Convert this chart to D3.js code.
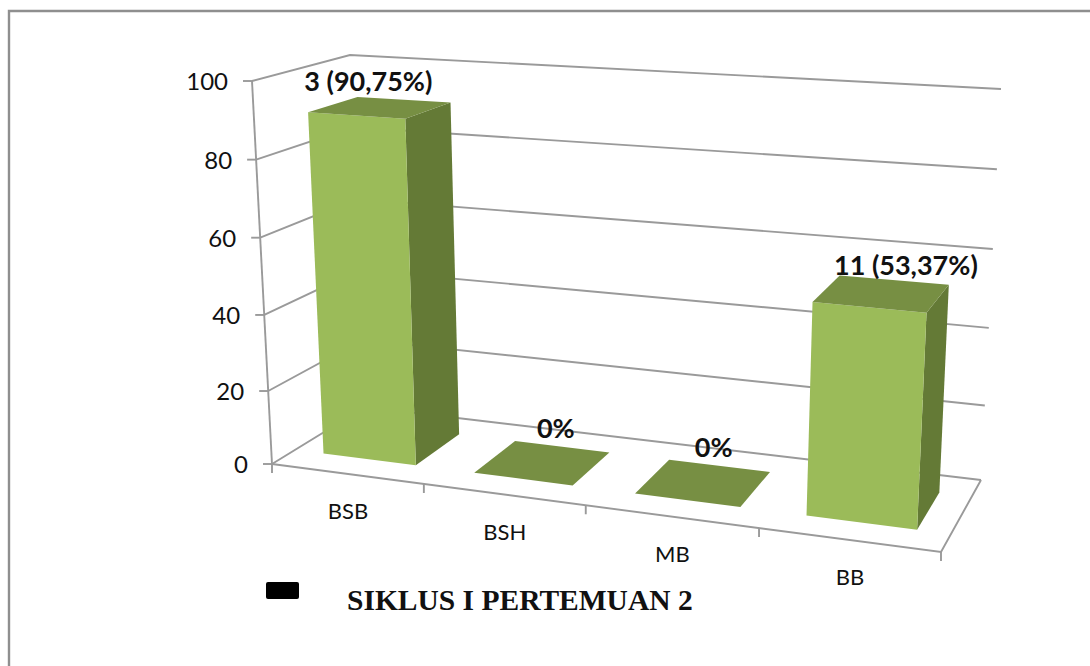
<!DOCTYPE html>
<html>
<head>
<meta charset="utf-8">
<style>
	html, body { margin: 0; padding: 0; background: #fff; overflow: hidden; }
	svg { display: block; }
	.tick-label { font-family: Lato, "Open Sans", sans-serif; fill: #111; }
	.bar-label { font-family: Lato, "Open Sans", sans-serif; font-weight: 700; fill: #111; }
	.legend-label { font-family: "Liberation Serif", serif; font-weight: 700; fill: #111; }
</style>
</head>
<body>
<svg></svg>
<script src="https://cdnjs.cloudflare.com/ajax/libs/d3/7.8.5/d3.min.js"></script>
<script>
const categories = ["BSB", "BSH", "MB", "BB"];
const values = [90.75, 0, 0, 53.37];
const barLabels = ["3 (90,75%)", "0%", "0%", "11 (53,37%)"];
const valueTicks = [0, 20, 40, 60, 80, 100];
const seriesName = "SIKLUS I PERTEMUAN 2";

const size = { w: 1090, h: 666 };
const svg = d3.select("svg").attr("width", size.w).attr("height", size.h);

// corners of the 3d box on screen: f = front, b = back, 0 / 1 = bottom / top, L / R = side
const box = {
	f0L: [272, 464], f0R: [941, 552], b0L: [365, 407], b0R: [981, 480],
	f1L: [252, 81], f1R: [961, 127], b1L: [350, 55], b1R: [1001, 89],
};

const lerp = (a, b, t) => [a[0] + (b[0] - a[0]) * t, a[1] + (b[1] - a[1]) * t];

// u: along the categories, d: into the depth, v: up the value axis, all 0..1
function project(u, d, v) {
	let bottom = lerp(lerp(box.f0L, box.f0R, u), lerp(box.b0L, box.b0R, u), d);
	let top = lerp(lerp(box.f1L, box.f1R, u), lerp(box.b1L, box.b1R, u), d);
	return lerp(bottom, top, v);
}

// these two scales stand in for the foreshortening of the camera
let xWarp = d3.scaleLinear().domain([0, 0.25, 0.5, 0.75, 1]).range([0, 0.227, 0.469, 0.728, 1]);
let yScale = d3.scalePow().exponent(1.03).domain([0, 100]).range([0, 1]);
let xBand = d3.scaleBand().domain(categories).range([0, 1]).paddingInner(0.38).paddingOuter(0.19);
let depthScale = d3.scaleLinear().domain([0, 1]).range([0.25, 0.77]);

const at = (u, d, val) => project(xWarp(u), d, yScale(val));
const polyPath = (pts) => d3.line()(pts) + "Z";

// back wall and side wall gridlines
const gridColor = "#9a9a9a";
let gridG = svg.append("g").attr("fill", "none").attr("stroke", gridColor).attr("stroke-width", 1.9);

gridG.selectAll("path.grid")
	.data(valueTicks)
	.join("path")
	.classed("grid", true)
	.attr("d", (t) => d3.line()([at(0, 0, t), at(0, 1, t), at(1, 1, t)]));

// floor outline
gridG.append("path").attr("d", d3.line()([at(1, 1, 0), at(1, 0, 0), at(0, 0, 0)]));

// value axis
gridG.append("path").attr("d", d3.line()([at(0, 0, 0), at(0, 0, 100)]));

gridG.selectAll("path.ytick")
	.data(valueTicks)
	.join("path")
	.classed("ytick", true)
	.attr("d", (t) => {
		let p = at(0, 0, t);
		return d3.line()([[p[0] - 9, p[1]], p]);
	});

svg.selectAll("text.ytext")
	.data(valueTicks)
	.join("text")
	.attr("class", "ytext tick-label")
	.attr("x", (t) => at(0, 0, t)[0] - 24)
	.attr("y", (t) => at(0, 0, t)[1] + 9)
	.attr("text-anchor", "end")
	.attr("font-size", 24)
	.text((t) => t);

// category ticks sit on the band boundaries
gridG.selectAll("path.xtick")
	.data(d3.range(categories.length + 1))
	.join("path")
	.classed("xtick", true)
	.attr("d", (i) => {
		let p = at(i / categories.length, 0, 0);
		return d3.line()([p, [p[0], p[1] + 9]]);
	});

svg.selectAll("text.xtext")
	.data(categories)
	.join("text")
	.attr("class", "xtext tick-label")
	.attr("x", (c) => at(xBand(c) + xBand.bandwidth() / 2, 0, 0)[0])
	.attr("y", (c) => at(xBand(c) + xBand.bandwidth() / 2, 0, 0)[1] + 45)
	.attr("text-anchor", "middle")
	.attr("font-size", 22)
	.text((c) => c);

// bars: side face, front face, then the lid
let bars = categories.map((c, i) => ({ c: c, val: values[i], label: barLabels[i] }));

let barG = svg.selectAll("g.bar").data(bars).join("g").classed("bar", true);

barG.each(function (b) {
	let g = d3.select(this);
	let u0 = xBand(b.c);
	let u1 = u0 + xBand.bandwidth();
	let d0 = depthScale(0);
	let d1 = depthScale(1);
	if (b.val > 0) {
		g.append("path")
			.attr("fill", "#647a36")
			.attr("d", polyPath([at(u1, d0, 0), at(u1, d1, 0), at(u1, d1, b.val), at(u1, d0, b.val)]));
		g.append("path")
			.attr("fill", "#9bbb59")
			.attr("d", polyPath([at(u0, d0, 0), at(u1, d0, 0), at(u1, d0, b.val), at(u0, d0, b.val)]));
	}
	g.append("path")
		.attr("fill", "#778f43")
		.attr("d", polyPath([at(u0, d0, b.val), at(u1, d0, b.val), at(u1, d1, b.val), at(u0, d1, b.val)]));
});

// data labels were nudged by hand off the lid centres
const labelNudge = [[-12, -17], [13, -25], [10, -26], [24, -19]];

svg.selectAll("text.value")
	.data(bars)
	.join("text")
	.attr("class", "value bar-label")
	.attr("x", (b, i) => at(xBand(b.c) + xBand.bandwidth() / 2, 0.51, b.val)[0] + labelNudge[i][0])
	.attr("y", (b, i) => at(xBand(b.c) + xBand.bandwidth() / 2, 0.51, b.val)[1] + labelNudge[i][1])
	.attr("text-anchor", "middle")
	.attr("font-size", 27)
	.text((b) => b.label);

// legend
svg.append("rect")
	.attr("x", 266).attr("y", 582)
	.attr("width", 33).attr("height", 17)
	.attr("rx", 2)
	.attr("fill", "#000");

svg.append("text")
	.attr("class", "legend-label")
	.attr("x", 347).attr("y", 610)
	.attr("font-size", 29.5)
	.text(seriesName);

// frame only shows along the top and left
svg.append("path")
	.attr("fill", "none")
	.attr("stroke", "#8f8f8f")
	.attr("stroke-width", 2.4)
	.attr("d", d3.line()([[9, size.h], [9, 11], [size.w, 11]]));
</script>
</body>
</html>
